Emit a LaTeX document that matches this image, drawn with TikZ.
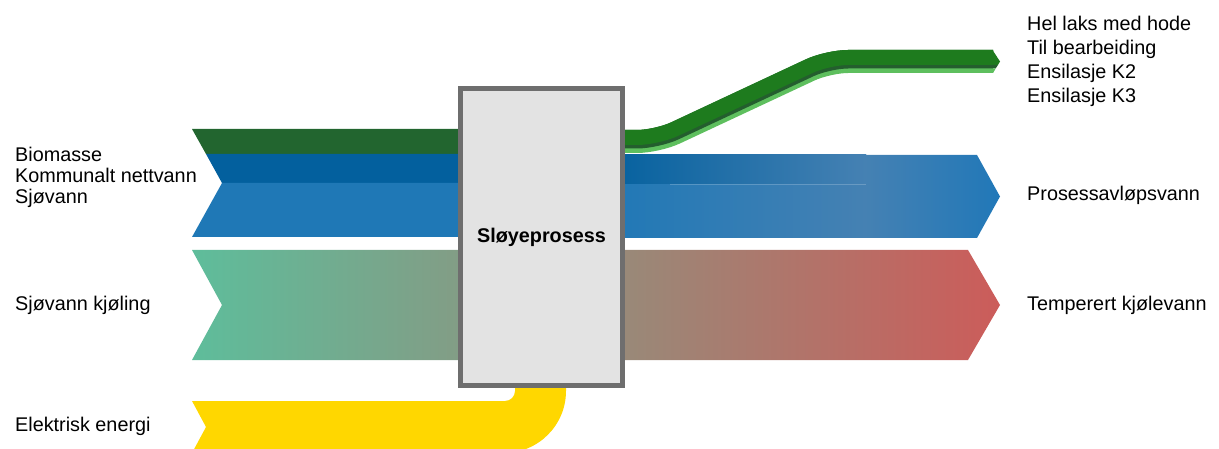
\documentclass[tikz,border=0pt]{standalone}
\usepackage{fontspec}
\setmainfont{Liberation Sans}
\definecolor{bioG}{HTML}{22652F}
\definecolor{dBlue}{HTML}{03609E}
\definecolor{lBlue}{HTML}{1F78B6}
\definecolor{midBlue}{HTML}{4581B3}
\definecolor{rBlue}{HTML}{2178B8}
\definecolor{coolL}{HTML}{5EBD9B}
\definecolor{coolR}{HTML}{CC5C5A}
\definecolor{gMain}{HTML}{1E7B1E}
\definecolor{gDark}{HTML}{245E2E}
\definecolor{gLight}{HTML}{5EBF5E}
\definecolor{elY}{HTML}{FFD700}
\definecolor{boxFill}{HTML}{E3E3E3}
\definecolor{boxLine}{HTML}{6E6E6E}
\begin{document}
\begin{tikzpicture}[x=1pt,y=-1pt,
  lbl/.style={anchor=base west, inner sep=0pt, text=black, font=\fontsize{19.8}{23}\selectfont},
  procbox/.style={draw=boxLine, line width=4.5pt, fill=boxFill, minimum width=162pt, minimum height=297pt, inner sep=0pt, font=\fontsize{19.8}{23}\selectfont\bfseries},
  gout/.style={rounded corners=20pt, line cap=butt}]
\useasboundingbox (0,0) rectangle (1219,449);
\begin{scope}
\clip (0,0) rectangle (1219,449);
% cooling water
\shade[left color=coolL, right color=coolR] (192,250) -- (968,250) -- (1000,305) -- (968,360) -- (192,360) -- (222,305) -- cycle;
% inflow biomass / water
\fill[bioG] (192,129) -- (600,129) -- (600,154) -- (206,154) -- cycle;
\fill[dBlue] (206,154) -- (600,154) -- (600,183) -- (222,183) -- cycle;
\fill[lBlue] (222,183) -- (600,183) -- (600,237) -- (192,237) -- cycle;
% process waste water out
\shade[left color=lBlue, right color=midBlue] (600,155) rectangle (866,238);
\shade[left color=midBlue, right color=rBlue] (865,155) -- (977,155) -- (1000,196.5) -- (977,238) -- (865,238) -- cycle;
\shade[left color=dBlue, right color=midBlue] (600,155) rectangle (866,184);
\draw[white, opacity=0.2, line width=0.8pt] (670,184) -- (866,184);
% salmon products out
\draw[gout, gLight, line width=23pt] (600,141.5) -- (657,141.5) -- (828,61.5) -- (993,61.5);
\draw[gout, gDark, line width=18.5pt] (600,139.25) -- (657,139.25) -- (828,59.25) -- (993,59.25);
\draw[gout, gMain, line width=15pt] (600,137.5) -- (657,137.5) -- (828,57.5) -- (993,57.5);
\fill[gMain] (992.5,50) -- (1000,61.5) -- (997.9,65) -- (992.5,65) -- cycle;
\fill[gDark] (992.5,65) -- (997.9,65) -- (995.7,68.5) -- (992.5,68.5) -- cycle;
\fill[gLight] (992.5,68.5) -- (995.7,68.5) -- (993,73) -- (992.5,73) -- cycle;
% electric energy
\fill[elY] (192,401) -- (505,401) .. controls (510.5,401) and (515,396.5) .. (515,391) -- (515,380) -- (566,380) -- (566,391) .. controls (566,425.2) and (538.2,453) .. (504,453) -- (192,453) -- (206,427) -- cycle;
\end{scope}
% process box
\node[procbox] (proc) at (541.5,237) {Sløyeprosess};
% left labels
\node[lbl] (bio) at (15,162) {Biomasse};
\node[lbl] (komm) at (15,183) {Kommunalt nettvann};
\node[lbl] (sjo) at (15,204) {Sjøvann};
\node[lbl] (sjok) at (15,311) {Sjøvann kjøling};
\node[lbl] (el) at (15,431) {Elektrisk energi};
% right labels
\node[lbl] (hel) at (1027,31) {Hel laks med hode};
\node[lbl] (til) at (1027,55) {Til bearbeiding};
\node[lbl] (k2) at (1027,79) {Ensilasje K2};
\node[lbl] (k3) at (1027,102.5) {Ensilasje K3};
\node[lbl] (pav) at (1027,201) {Prosessavløpsvann};
\node[lbl] (temp) at (1027,311) {Temperert kjølevann};
\end{tikzpicture}
\end{document}
